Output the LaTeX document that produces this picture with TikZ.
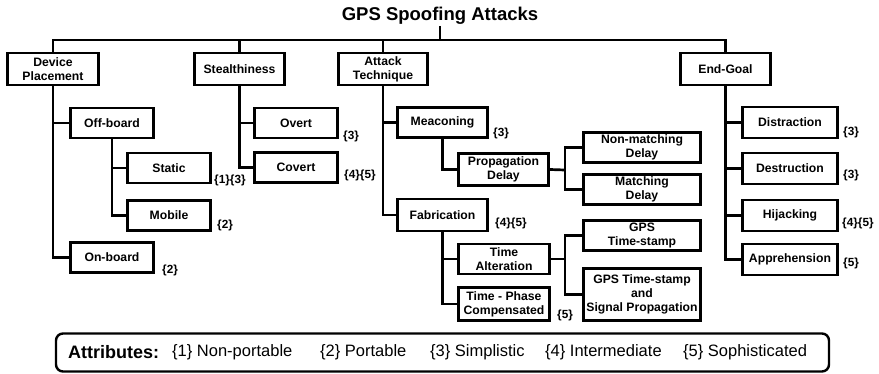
\documentclass[tikz,border=0pt]{standalone}
\usepackage{fontspec}
\setmainfont{Liberation Sans}
\pgfdeclarelayer{bg}
\pgfsetlayers{bg,main}
\begin{document}
\begin{tikzpicture}[x=1pt,y=-1pt,
  bx/.style={draw=black,line width=2.2pt,fill=white,align=center,inner sep=1pt,
    font=\fontsize{12.2}{13.8}\selectfont\bfseries,minimum height=30pt},
  ln/.style={draw=black,line width=2.7pt},
  lbl/.style={anchor=west,inner sep=0pt,font=\fontsize{11.8}{12}\selectfont\bfseries},
  attr/.style={anchor=west,inner sep=0pt,font=\fontsize{16.5}{18}\selectfont}]
\useasboundingbox (0,0) rectangle (879,374);
% title
\node[inner sep=1pt,font=\fontsize{18.5}{20}\selectfont\bfseries] (title) at (440,16) {GPS Spoofing Attacks};
\coordinate (bus) at (440,40);
% level 1
\node[bx,minimum width=91pt,minimum height=32pt] (dp) at (53,69) {Device\\Placement};
\node[bx,minimum width=90pt,minimum height=32pt] (st) at (239.5,69) {Stealthiness};
\node[bx,minimum width=89pt,minimum height=32pt] (at) at (383,69) {Attack\\Technique};
\node[bx,minimum width=90pt,minimum height=32pt] (eg) at (725.5,69) {End-Goal};
% device placement
\node[bx,minimum width=83pt] (offb) at (112,123) {Off-board};
\node[bx,minimum width=83pt] (onb) at (112,257.5) {On-board};
\node[bx,minimum width=83pt] (static) at (169,168) {Static};
\node[bx,minimum width=83pt] (mobile) at (169,215.5) {Mobile};
% stealthiness
\node[bx,minimum width=83pt] (overt) at (296,123) {Overt};
\node[bx,minimum width=83pt] (covert) at (296,167.5) {Covert};
% attack technique
\node[bx,minimum width=90pt] (meac) at (442.5,122.5) {Meaconing};
\node[bx,minimum width=90pt,minimum height=32pt] (prop) at (503.5,169.5) {Propagation\\Delay};
\node[bx,minimum width=117pt] (nonm) at (642,147.5) {Non-matching\\Delay};
\node[bx,minimum width=117pt] (match) at (642,189.5) {Matching\\Delay};
\node[bx,minimum width=90pt,minimum height=32pt] (fab) at (442.5,215) {Fabrication};
\node[bx,minimum width=91pt] (talt) at (504,259) {Time\\Alteration};
\node[bx,minimum width=91pt,minimum height=33pt] (tpc) at (504,304) {Time - Phase\\Compensated};
\node[bx,minimum width=117pt] (gpst) at (642,235.5) {GPS\\Time-stamp};
\node[bx,minimum width=117pt,minimum height=52pt] (gpssp) at (642,294.5) {GPS Time-stamp\\and\\Signal Propagation};
% end goal
\node[bx,minimum width=95pt,minimum height=31pt] (distr) at (790,122.5) {Distraction};
\node[bx,minimum width=95pt,minimum height=31pt] (destr) at (790,168.5) {Destruction};
\node[bx,minimum width=95pt,minimum height=31pt] (hij) at (790,215.5) {Hijacking};
\node[bx,minimum width=95pt,minimum height=31pt] (appr) at (790,259.5) {Apprehension};
% connectors
\begin{pgfonlayer}{bg}
\draw[ln] (title.south) -- (bus);
\draw[ln] (dp.north) -- (dp.north |- bus) -- (eg.north |- bus) -- (eg.north);
\draw[ln] (st.north) -- (st.north |- bus);
\draw[ln] (at.north) -- (at.north |- bus);
\draw[ln] (dp.south) |- (onb.west);
\draw[ln] (dp.south |- offb.west) -- (offb.west);
\draw[ln] (offb.south) |- (mobile.west);
\draw[ln] (offb.south |- static.west) -- (static.west);
\draw[ln] (st.south) |- (covert.west);
\draw[ln] (st.south |- overt.west) -- (overt.west);
\draw[ln] (at.south) |- (fab.west);
\draw[ln] (at.south |- meac.west) -- (meac.west);
\draw[ln] (meac.south) |- (prop.west);
\draw[ln] (fab.south) |- (tpc.west);
\draw[ln] (fab.south |- talt.west) -- (talt.west);
\coordinate (pb) at (565,170);
\draw[ln] (prop.east) -- (pb);
\draw[ln] (nonm.west) -| (pb) |- (match.west);
\coordinate (tb) at (565,259);
\draw[ln] (talt.east) -- (tb);
\draw[ln] (gpst.west) -| (tb) |- (gpssp.west);
\draw[ln] (eg.south) |- (appr.west);
\draw[ln] (eg.south |- distr.west) -- (distr.west);
\draw[ln] (eg.south |- destr.west) -- (destr.west);
\draw[ln] (eg.south |- hij.west) -- (hij.west);
\end{pgfonlayer}
% attribute labels
\node[lbl] (l1) at (162,270) {\{2\}};
\node[lbl] (l2) at (214,180) {\{1\}\{3\}};
\node[lbl] (l3) at (217,225) {\{2\}};
\node[lbl] (l4) at (343,136) {\{3\}};
\node[lbl] (l5) at (344,175) {\{4\}\{5\}};
\node[lbl] (l6) at (493,133) {\{3\}};
\node[lbl] (l7) at (495,223) {\{4\}\{5\}};
\node[lbl] (l8) at (557,315) {\{5\}};
\node[lbl] (l9) at (843,132) {\{3\}};
\node[lbl] (l10) at (843,175) {\{3\}};
\node[lbl] (l11) at (842,223) {\{4\}\{5\}};
\node[lbl] (l12) at (843,263) {\{5\}};
% legend
\node[draw=black,line width=2.4pt,rounded corners=7pt,minimum width=773pt,minimum height=38pt,inner sep=0pt] (legend) at (442.5,352.5) {};
\node[anchor=west,inner sep=0pt,font=\fontsize{18}{20}\selectfont\bfseries] (lg0) at (68,352) {Attributes:};
\node[attr] (lg1) at (172,352) {\{1\} Non-portable};
\node[attr] (lg2) at (320,352) {\{2\} Portable};
\node[attr] (lg3) at (430,352) {\{3\} Simplistic};
\node[attr] (lg4) at (545,352) {\{4\} Intermediate};
\node[attr] (lg5) at (683,352) {\{5\} Sophisticated};
\end{tikzpicture}
\end{document}
